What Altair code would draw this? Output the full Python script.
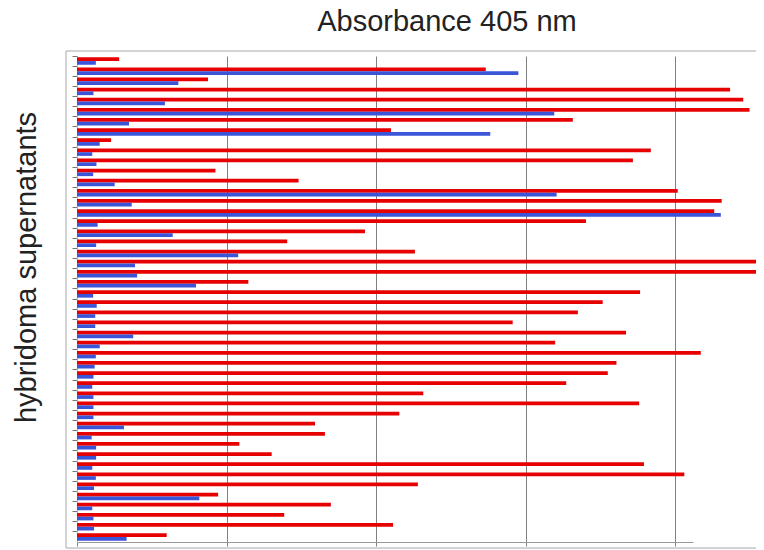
import altair as alt
import pandas as pd

clones = [f"S{i + 1:02d}" for i in range(48)]
series = ["Target", "Control"]
colors = ["#e60000", "#3a55d8"]
x_ticks = [0, 0.5, 1.0, 1.5, 2.0]
chart_title = "Absorbance 405 nm"

red_vals = [0.141, 1.367, 0.438, 2.184, 2.228, 2.249, 1.658, 1.050, 0.114, 1.919,
            1.859, 0.463, 0.741, 2.009, 2.156, 2.131, 1.702, 0.963, 0.703, 1.130,
            2.279, 2.320, 0.573, 1.883, 1.758, 1.675, 1.457, 1.836, 1.599, 2.086,
            1.804, 1.775, 1.636, 1.158, 1.880, 1.078, 0.796, 0.829, 0.543, 0.651,
            1.896, 2.031, 1.140, 0.472, 0.849, 0.693, 1.057, 0.300]
blue_vals = [0.063, 1.476, 0.339, 0.055, 0.294, 1.596, 0.174, 1.382, 0.076, 0.051,
             0.065, 0.054, 0.126, 1.604, 0.183, 2.153, 0.069, 0.320, 0.064, 0.539,
             0.194, 0.201, 0.398, 0.054, 0.066, 0.061, 0.061, 0.188, 0.076, 0.063,
             0.059, 0.055, 0.051, 0.055, 0.055, 0.055, 0.157, 0.049, 0.064, 0.064,
             0.051, 0.063, 0.057, 0.409, 0.051, 0.055, 0.057, 0.166]

df = pd.DataFrame({
    "clone": clones * 2,
    "series": [series[0]] * len(clones) + [series[1]] * len(clones),
    "value": red_vals + blue_vals,
})

bars = alt.Chart(df).mark_bar().encode(
    x=alt.X("value:Q",
            scale=alt.Scale(domain=[0, 2.06], nice=False, zero=True),
            axis=alt.Axis(values=x_ticks, labels=False, title=None, grid=True,
                          gridColor="#808080", gridWidth=1, tickColor="#808080",
                          tickSize=4, domainColor="#9a9a9a")),
    y=alt.Y("clone:N", sort=clones,
            scale=alt.Scale(paddingInner=0, paddingOuter=0),
            axis=alt.Axis(labels=False, bandPosition=0, tickSize=5, tickColor="#777777",
                          domainColor="#bbbbbb", grid=False,
                          title="hybridoma supernatants", titleFontSize=29,
                          titleFont="Liberation Sans", titleFontWeight="normal",
                          titleAngle=270, titleX=-42, titleY=211, titleAlign="center",
                          titleBaseline="alphabetic", titleColor="#222222")),
    yOffset=alt.YOffset("series:N", sort=series,
                        scale=alt.Scale(paddingOuter=0.37, paddingInner=0)),
    color=alt.Color("series:N", scale=alt.Scale(domain=series, range=colors), legend=None),
)

frame = alt.Chart(pd.DataFrame({"f": [0]})).mark_rect(
    fillOpacity=0, stroke="#a8a8a8", strokeWidth=1
).encode(
    x=alt.value(-11), x2=alt.value(720), y=alt.value(-5), y2=alt.value(492)
)

title_text = alt.Chart(pd.DataFrame({"t": [chart_title]})).mark_text(
    font="Liberation Sans", fontSize=29, color="#222222", align="center",
    baseline="alphabetic"
).encode(
    text="t:N", x=alt.value(370), y=alt.value(-25)
)

chart = alt.layer(frame, bars, title_text).properties(
    width=616,
    height=486,
    autosize=alt.AutoSizeParams(type="none"),
    padding={"left": 69, "top": 48, "right": 63, "bottom": 7},
).configure_view(strokeWidth=0)

chart.save("out.html", embed_options={"renderer": "svg", "actions": False})
